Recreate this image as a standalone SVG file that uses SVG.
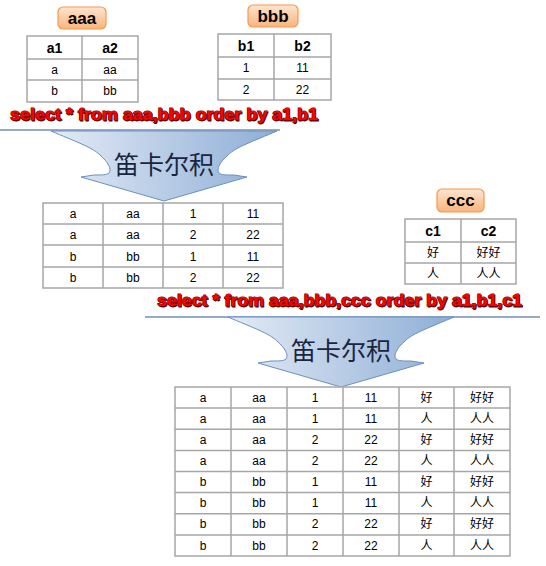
<svg xmlns="http://www.w3.org/2000/svg" width="546" height="566" viewBox="0 0 546 566">
<defs>
<linearGradient id="lblg" x1="0" y1="0" x2="0" y2="1">
<stop offset="0" stop-color="#fde4cf"/>
<stop offset="1" stop-color="#f9b57c"/>
</linearGradient>
<linearGradient id="arrg" x1="0" y1="0" x2="1" y2="0">
<stop offset="0" stop-color="#e3ebf5"/>
<stop offset="1" stop-color="#8eaed6"/>
</linearGradient>
<path id="arrow" d="M-113,0 L113,0 C90,10 72,16 64,24 C56,31 52,38 55,42 C57,44 62,44 70,44 L83,46 L0,70 L-83,46 L-70,44 C-62,44 -57,44 -55,42 C-52,38 -56,31 -64,24 C-72,16 -90,10 -113,0 Z"/>
</defs>
<style>
.lbl{fill:url(#lblg);stroke:#f39a4e;stroke-width:1.2}
.lt{font-family:"Liberation Sans",Arial,sans-serif;font-weight:bold;font-size:17px;fill:#000;text-anchor:middle}
.tb{fill:#fff;stroke:#a6a6a6;stroke-width:1.5}
.gl{stroke:#a6a6a6;stroke-width:1.5;fill:none}
.th{font-family:"Liberation Sans",Arial,sans-serif;font-weight:bold;font-size:14px;fill:#000;text-anchor:middle}
.td{font-family:"Liberation Sans",Arial,"Noto Sans CJK SC",sans-serif;font-size:12px;fill:#000;text-anchor:middle}
.sql{font-family:"Liberation Sans",Arial,sans-serif;font-weight:bold;font-size:17px;fill:#ff0000;stroke:#7a0000;stroke-width:1;paint-order:stroke}
.sqls{font-family:"Liberation Sans",Arial,sans-serif;font-weight:bold;font-size:17px;fill:#4a0000;stroke:#4a0000;stroke-width:0.8}
.sep{stroke:#95abc8;stroke-width:2}
.arr{fill:url(#arrg);stroke:#6a8fc0;stroke-width:1}
.at{font-family:"Noto Sans CJK SC",sans-serif;font-size:25px;fill:#1a2540;text-anchor:middle}
</style>

<g id="connectors">
<line class="sep" x1="0" y1="130" x2="280" y2="130"/>
<line class="sep" x1="145" y1="317" x2="540" y2="317"/>
</g>

<g id="label-aaa">
<rect class="lbl" x="58" y="7" width="48" height="22" rx="5"/>
<text class="lt" x="82" y="24">aaa</text>
</g>
<g id="table-aaa">
<rect class="tb" x="27" y="36" width="111" height="66"/>
<path class="gl" d="M82,36V102M27,59H138M27,80H138"/>
<text class="th" x="54.5" y="53">a1</text><text class="th" x="110" y="53">a2</text>
<text class="td" x="54.5" y="74">a</text><text class="td" x="110" y="74">aa</text>
<text class="td" x="54.5" y="95">b</text><text class="td" x="110" y="95">bb</text>
</g>

<g id="label-bbb">
<rect class="lbl" x="248" y="5" width="50" height="22" rx="5"/>
<text class="lt" x="273" y="22">bbb</text>
</g>
<g id="table-bbb">
<rect class="tb" x="218" y="34" width="113" height="66"/>
<path class="gl" d="M274,34V100M218,57H331M218,79H331"/>
<text class="th" x="246" y="51">b1</text><text class="th" x="302.5" y="51">b2</text>
<text class="td" x="246" y="72">1</text><text class="td" x="302.5" y="72">11</text>
<text class="td" x="246" y="94">2</text><text class="td" x="302.5" y="94">22</text>
</g>

<g id="sql1">
<text class="sqls" x="11" y="121" textLength="308" lengthAdjust="spacingAndGlyphs">select * from aaa,bbb order by a1,b1</text>
<text class="sql" x="10" y="120" textLength="308" lengthAdjust="spacingAndGlyphs">select * from aaa,bbb order by a1,b1</text>
</g>

<g id="arrow1">
<use href="#arrow" class="arr" transform="translate(164,131)"/>
<text class="at" x="164" y="174">笛卡尔积</text>
</g>

<g id="table-ab">
<rect class="tb" x="43" y="203" width="240" height="85"/>
<path class="gl" d="M103,203V288M163,203V288M223,203V288M43,224H283M43,245H283M43,267H283"/>
<text class="td" x="73" y="218">a</text><text class="td" x="133" y="218">aa</text><text class="td" x="193" y="218">1</text><text class="td" x="253" y="218">11</text>
<text class="td" x="73" y="239">a</text><text class="td" x="133" y="239">aa</text><text class="td" x="193" y="239">2</text><text class="td" x="253" y="239">22</text>
<text class="td" x="73" y="261">b</text><text class="td" x="133" y="261">bb</text><text class="td" x="193" y="261">1</text><text class="td" x="253" y="261">11</text>
<text class="td" x="73" y="282">b</text><text class="td" x="133" y="282">bb</text><text class="td" x="193" y="282">2</text><text class="td" x="253" y="282">22</text>
</g>

<g id="label-ccc">
<rect class="lbl" x="437" y="189" width="47" height="23" rx="5"/>
<text class="lt" x="460.5" y="206">ccc</text>
</g>
<g id="table-ccc">
<rect class="tb" x="405" y="219" width="111" height="65"/>
<path class="gl" d="M461,219V284M405,242H516M405,263H516"/>
<text class="th" x="433" y="236">c1</text><text class="th" x="488.5" y="236">c2</text>
<text class="td" x="433" y="257">好</text><text class="td" x="488.5" y="257">好好</text>
<text class="td" x="433" y="278">人</text><text class="td" x="488.5" y="278">人人</text>
</g>

<g id="sql2">
<text class="sqls" x="158" y="307" textLength="365" lengthAdjust="spacingAndGlyphs">select * from aaa,bbb,ccc order by a1,b1,c1</text>
<text class="sql" x="157" y="306" textLength="365" lengthAdjust="spacingAndGlyphs">select * from aaa,bbb,ccc order by a1,b1,c1</text>
</g>

<g id="arrow2">
<use href="#arrow" class="arr" transform="translate(341,317)"/>
<text class="at" x="341" y="360">笛卡尔积</text>
</g>

<g id="table-abc">
<rect class="tb" x="175" y="387" width="335" height="169"/>
<path class="gl" d="M231,387V556M287,387V556M343,387V556M399,387V556M454,387V556M175,408.1H510M175,429.3H510M175,450.4H510M175,471.5H510M175,492.6H510M175,513.8H510M175,534.9H510"/>
<g class="td">
<text x="203" y="402">a</text><text x="259" y="402">aa</text><text x="315" y="402">1</text><text x="371" y="402">11</text><text x="426.5" y="402">好</text><text x="482" y="402">好好</text>
<text x="203" y="423">a</text><text x="259" y="423">aa</text><text x="315" y="423">1</text><text x="371" y="423">11</text><text x="426.5" y="423">人</text><text x="482" y="423">人人</text>
<text x="203" y="444">a</text><text x="259" y="444">aa</text><text x="315" y="444">2</text><text x="371" y="444">22</text><text x="426.5" y="444">好</text><text x="482" y="444">好好</text>
<text x="203" y="465">a</text><text x="259" y="465">aa</text><text x="315" y="465">2</text><text x="371" y="465">22</text><text x="426.5" y="465">人</text><text x="482" y="465">人人</text>
<text x="203" y="486">b</text><text x="259" y="486">bb</text><text x="315" y="486">1</text><text x="371" y="486">11</text><text x="426.5" y="486">好</text><text x="482" y="486">好好</text>
<text x="203" y="507">b</text><text x="259" y="507">bb</text><text x="315" y="507">1</text><text x="371" y="507">11</text><text x="426.5" y="507">人</text><text x="482" y="507">人人</text>
<text x="203" y="528">b</text><text x="259" y="528">bb</text><text x="315" y="528">2</text><text x="371" y="528">22</text><text x="426.5" y="528">好</text><text x="482" y="528">好好</text>
<text x="203" y="550">b</text><text x="259" y="550">bb</text><text x="315" y="550">2</text><text x="371" y="550">22</text><text x="426.5" y="550">人</text><text x="482" y="550">人人</text>
</g>
</g>
</svg>
